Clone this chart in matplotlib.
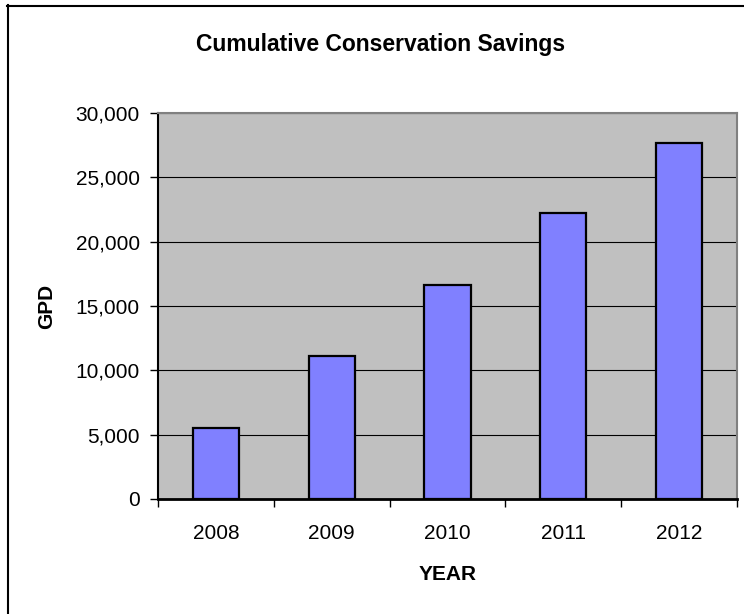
import matplotlib.pyplot as plt
from matplotlib.lines import Line2D
from matplotlib.ticker import FuncFormatter

years = ["2008", "2009", "2010", "2011", "2012"]
savings = [5550, 11100, 16650, 22200, 27700]
yticks = [0, 5000, 10000, 15000, 20000, 25000, 30000]

plt.rcParams["font.family"] = ["Liberation Sans", "DejaVu Sans"]

fig = plt.figure(figsize=(7.44, 6.14), dpi=100)
ax = fig.add_axes([158/744, 1 - 499/614, (737 - 158)/744, (499 - 113)/614])
ax.set_facecolor("#c0c0c0")

x = list(range(len(years)))
ax.bar(x, savings, width=0.4, color="#8080ff", edgecolor="black", linewidth=1.6, zorder=3)

ax.set_xlim(-0.5, len(years) - 0.5)
ax.set_ylim(0, 30000)
ax.set_yticks(yticks)
ax.yaxis.set_major_formatter(FuncFormatter(lambda v, p: f"{int(v):,}"))
ax.grid(axis="y", color="black", linewidth=0.8, zorder=1)
ax.set_axisbelow(True)

ax.set_xticks(x)
ax.set_xticklabels(years)
ax.set_xticks([i - 0.5 for i in range(len(years) + 1)], minor=True)
ax.tick_params(axis="x", which="major", length=0, labelsize=15, pad=18)
ax.tick_params(axis="x", which="minor", length=6, width=1, direction="out")
ax.tick_params(axis="y", length=6, width=1, direction="out", labelsize=15, pad=7)

for side in ["top", "right"]:
    ax.spines[side].set_color("#808080")
    ax.spines[side].set_linewidth(1.5)
ax.spines["left"].set_linewidth(1.5)
ax.spines["bottom"].set_linewidth(2)

ax.set_xlabel("YEAR", fontsize=15, fontweight="bold", labelpad=16)
ax.set_ylabel("GPD", fontsize=15, fontweight="bold", labelpad=14)
fig.text(381/744, 1 - 45/614, "Cumulative Conservation Savings", ha="center", va="center",
         fontsize=16.5, fontweight="bold")

# chart frame (left and top edges only visible)
fig.add_artist(Line2D([7.5/744, 7.5/744], [0, 1 - 5/614], color="black", linewidth=1.5))
fig.add_artist(Line2D([7/744, 1], [1 - 5.5/614, 1 - 5.5/614], color="black", linewidth=1.5))

fig.savefig("out.png", dpi=100)
